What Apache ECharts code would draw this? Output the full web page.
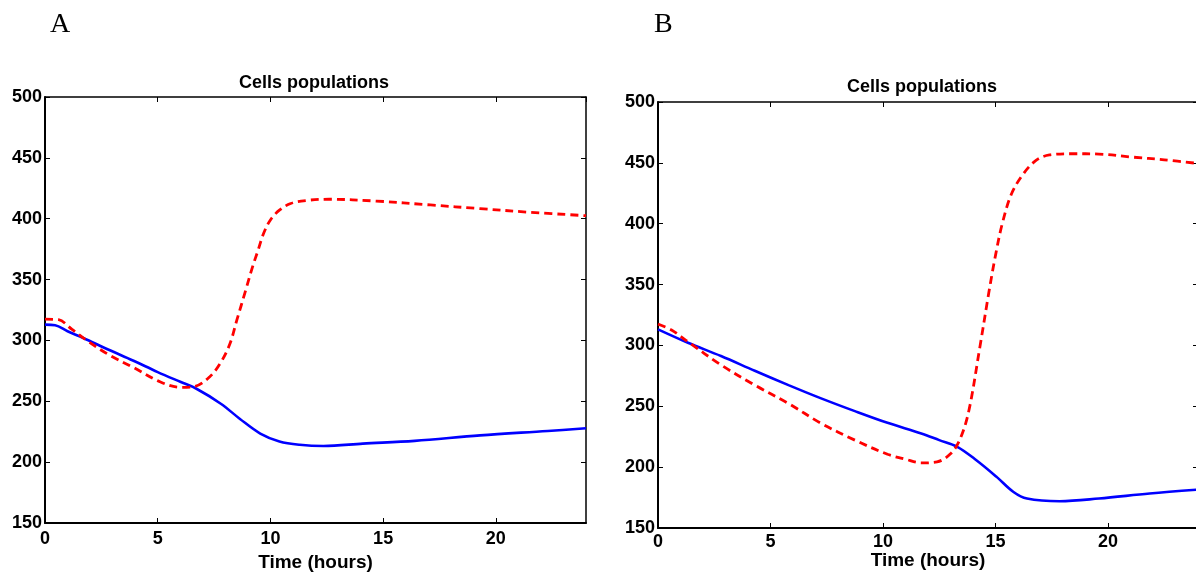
<!DOCTYPE html>
<html>
<head>
<meta charset="utf-8">
<script src="https://cdn.jsdelivr.net/npm/echarts@6/dist/echarts.min.js"></script>
<style>
html, body { margin: 0; background: #fff; }
#main { width: 1196px; height: 573px; }
</style>
</head>
<body>
<div id="main"></div>
<script>
// 数据
// 面板 A
var timeRedA = [0, 0.6, 1.2, 1.85, 2.9, 3.9, 5.1, 6.0, 6.6, 7.3, 7.8, 8.2, 8.5, 8.9, 9.2, 9.45, 9.7, 10.0, 10.4, 10.9, 11.6, 12.6, 14.7, 17.1, 19.3, 21.5, 24];
var redA = [317.5, 317, 309, 300, 287.5, 278, 266, 261.5, 262, 270, 282, 297, 316, 341, 360, 374, 388, 399, 407, 412.5, 415, 416, 414.5, 411.3, 408.3, 405.3, 402.5];
var timeBlueA = [0, 0.45, 1.0, 1.7, 2.8, 3.9, 5.0, 6.0, 6.7, 7.8, 8.65, 9.55, 10.4, 11.3, 12.35, 14.1, 16.4, 19.3, 22.3, 24];
var blueA = [313, 312.5, 307.5, 302, 292.5, 283.5, 274, 266, 260.5, 248, 235.5, 223.5, 217, 214.3, 213.3, 215.2, 217.5, 222, 225.6, 227.8];

// 面板 B
var timeRedB = [0, 0.6, 1.33, 2.8, 4.3, 5.8, 7.25, 8.75, 10.2, 11.0, 11.7, 12.4, 13.0, 13.4, 13.8, 14.3, 14.7, 15.0, 15.3, 15.7, 16.2, 16.8, 17.4, 18.4, 19.6, 21.1, 22.5, 24];
var redB = [317.5, 312.7, 303, 284, 267.4, 252.3, 236, 222.2, 210.6, 206.5, 203.5, 204.3, 211, 222, 245, 298, 343, 374, 400, 424, 440, 452, 456.5, 457.5, 457.2, 454.7, 452.5, 449.5];
var timeBlueB = [0, 1.33, 2.8, 4.3, 5.8, 7.25, 8.75, 10.2, 11.7, 12.5, 13.3, 14.15, 15.05, 15.8, 16.4, 17.85, 19.6, 21.85, 24];
var blueB = [313.2, 302.2, 291.3, 279.2, 267.4, 256.5, 246, 236.4, 227.7, 222.2, 216.7, 205.7, 192, 179.6, 174.2, 172, 174.2, 178.3, 181.5];

// 坐标轴范围
var xMin = 0, xMax = 24, xStep = 5;
var yMin = 150, yMax = 500, yStep = 50;
var panelLetters = ['A', 'B'];
var plotTitle = 'Cells populations';
var xLabel = 'Time (hours)';

// 把时间和数值配成 [x, y]
var zip = function (t, v) {
    var out = [];
    t.forEach(function (item, i) {
        out.push([item, v[i]]);
    });
    return out;
};

var FONT = '"Liberation Sans", Arial, sans-serif';
var labelStyle = { fontFamily: FONT, fontWeight: 'bold', fontSize: 18, color: '#000' };

var makeX = function (grid, pos, margin, gap) {
    var main = pos === 'bottom';
    return {
        gridIndex: grid, type: 'value', position: pos,
        min: xMin, max: xMax, interval: xStep,
        axisLine: { onZero: false, lineStyle: { color: '#000', width: main ? 2 : 1.5 } },
        axisTick: { inside: true, length: 5, lineStyle: { color: '#000', width: 1 } },
        axisLabel: Object.assign({ show: main, showMaxLabel: false, margin: margin || 7 }, labelStyle),
        splitLine: { show: false },
        name: main ? xLabel : '',
        nameLocation: 'middle',
        nameGap: gap || 30,
        nameMoveOverlap: false,
        nameTextStyle: { fontFamily: FONT, fontWeight: 'bold', fontSize: 19, color: '#000' }
    };
};

var makeY = function (grid, pos) {
    var main = pos === 'left';
    return {
        gridIndex: grid, type: 'value', position: pos,
        min: yMin, max: yMax, interval: yStep,
        axisLine: { onZero: false, lineStyle: { color: '#000', width: main ? 2 : 1.5 } },
        axisTick: { inside: true, length: 5, lineStyle: { color: '#000', width: 1 } },
        axisLabel: Object.assign({ show: main, margin: 3 }, labelStyle),
        splitLine: { show: false }
    };
};

var redLine = { color: '#ff0000', width: 2.8, type: [8, 5] };
var blueLine = { color: '#0000ff', width: 2.6 };

var myChart = echarts.init(document.getElementById('main'));

var option = {
    backgroundColor: '#fff',
    animation: false,
    title: [
        { text: panelLetters[0], left: 50, top: 11, padding: 0,
          textStyle: { fontFamily: '"Liberation Serif", "Times New Roman", serif', fontWeight: 'normal', fontSize: 28, color: '#000' } },
        { text: panelLetters[1], left: 654, top: 11, padding: 0,
          textStyle: { fontFamily: '"Liberation Serif", "Times New Roman", serif', fontWeight: 'normal', fontSize: 28, color: '#000' } },
        { text: plotTitle, left: 314, top: 74, padding: 0, textAlign: 'center',
          textStyle: { fontFamily: FONT, fontWeight: 'bold', fontSize: 18, color: '#000' } },
        { text: plotTitle, left: 922, top: 78, padding: 0, textAlign: 'center',
          textStyle: { fontFamily: FONT, fontWeight: 'bold', fontSize: 18, color: '#000' } }
    ],
    grid: [
        { left: 45, top: 97, width: 541, height: 426, containLabel: false, outerBoundsMode: 'none' },
        { left: 658, top: 102, width: 540, height: 426, containLabel: false, outerBoundsMode: 'none' }
    ],
    xAxis: [makeX(0, 'bottom', 7, 30), makeX(0, 'top'), makeX(1, 'bottom', 5, 23), makeX(1, 'top')],
    yAxis: [makeY(0, 'left'), makeY(0, 'right'), makeY(1, 'left'), makeY(1, 'right')],
    series: [
        { name: 'A red', type: 'line', xAxisIndex: 0, yAxisIndex: 0, data: zip(timeRedA, redA),
          smooth: 0.35, symbol: 'none', lineStyle: redLine, z: 3 },
        { name: 'A blue', type: 'line', xAxisIndex: 0, yAxisIndex: 0, data: zip(timeBlueA, blueA),
          smooth: 0.35, symbol: 'none', lineStyle: blueLine, z: 2 },
        { name: 'B red', type: 'line', xAxisIndex: 2, yAxisIndex: 2, data: zip(timeRedB, redB),
          smooth: 0.35, symbol: 'none', lineStyle: redLine, z: 3 },
        { name: 'B blue', type: 'line', xAxisIndex: 2, yAxisIndex: 2, data: zip(timeBlueB, blueB),
          smooth: 0.35, symbol: 'none', lineStyle: blueLine, z: 2 }
    ]
};

myChart.setOption(option);
</script>
</body>
</html>
